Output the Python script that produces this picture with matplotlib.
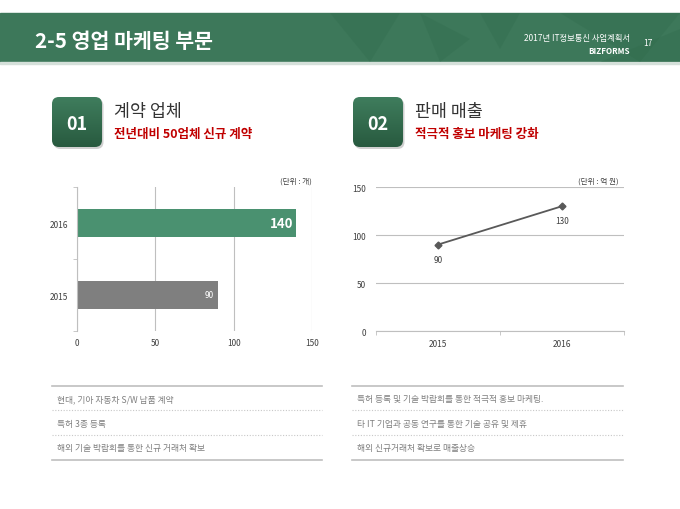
import numpy as np
import matplotlib
matplotlib.use("Agg")
import matplotlib.pyplot as plt
from matplotlib.patches import FancyBboxPatch, Rectangle, Polygon
from matplotlib.colors import LinearSegmentedColormap

plt.rcParams['font.family'] = ['Noto Sans CJK KR', 'DejaVu Sans']

# data
bar_years = ['2015', '2016']
bar_values = [90, 140]
line_years = ['2015', '2016']
line_values = [90, 130]

left_notes = ['현대, 기아 자동차 S/W 납품 계약',
              '특허 3종 등록',
              '해외 기술 박람회를 통한 신규 거래처 확보']
right_notes = ['특허 등록 및 기술 박람회를 통한 적극적 홍보 마케팅.',
               '타 IT 기업과 공동 연구를 통한 기술 공유 및 제휴',
               '해외 신규거래처 확보로 매출상승']

W, H = 680, 510
fig = plt.figure(figsize=(6.8, 5.1), dpi=100)
fig.patch.set_facecolor('white')

# overlay in pixel coords
bg = fig.add_axes([0, 0, 1, 1])
bg.set_xlim(0, W)
bg.set_ylim(H, 0)
bg.axis('off')

# header band
bg.add_patch(Rectangle((0, 14), W, 49, color='#3d785a', zorder=1))
bg.add_patch(Rectangle((0, 63), W, 2, color='#d5e0da', zorder=1))
tris = [[(330, 14), (400, 14), (370, 63)],
        [(420, 14), (470, 40), (440, 63)],
        [(560, 14), (680, 14), (640, 63)],
        [(600, 63), (680, 30), (680, 63)],
        [(480, 14), (520, 14), (500, 50)]]
for t in tris:
    bg.add_patch(Polygon(t, closed=True, color='#2f6a4b', alpha=0.3, lw=0, zorder=2))
bg.text(35, 41, '2-5 영업 마케팅 부문', color='white', fontsize=14.8, fontweight='bold',
        va='center', ha='left', zorder=3)
bg.text(630, 38, '2017년 IT정보통신 사업계획서', color='white', fontsize=6,
        va='center', ha='right', zorder=3)
bg.text(630, 52, 'BIZFORMS', color='white', fontsize=5.8, fontweight='bold',
        va='center', ha='right', zorder=3)
bg.text(648, 43, '17', color='white', fontsize=6, va='center', ha='center', zorder=3)

# section badges
grad = LinearSegmentedColormap.from_list('g', ['#3f7d5d', '#285a3f'])

def badge(x, num, title, sub):
    bg.add_patch(FancyBboxPatch((x + 1.5, 100), 50, 50, boxstyle='round,pad=0,rounding_size=7',
                                color='#d0d0d0', lw=0, zorder=2))
    box = FancyBboxPatch((x, 98), 50, 50, boxstyle='round,pad=0,rounding_size=7',
                         facecolor='none', lw=0, zorder=3)
    bg.add_patch(box)
    im = bg.imshow(np.linspace(0, 1, 64).reshape(-1, 1), cmap=grad, aspect='auto',
                   extent=(x, x + 50, 148, 98), zorder=3)
    im.set_clip_path(box)
    bg.text(x + 25, 124, num, color='white', fontsize=13, fontweight='bold',
            ha='center', va='center', zorder=4)
    bg.text(x + 62, 112, title, color='#333333', fontsize=12.5, ha='left', va='center')
    bg.text(x + 62, 135, sub, color='#c00000', fontsize=9, fontweight='bold',
            ha='left', va='center')

badge(52, '01', '계약 업체', '전년대비 50업체 신규 계약')
badge(353, '02', '판매 매출', '적극적 홍보 마케팅 강화')
bg.set_xlim(0, W)
bg.set_ylim(H, 0)

# bar chart
ax1 = fig.add_axes([77 / W, (H - 332) / H, (312 - 77) / W, (332 - 188) / H])
ypos = np.arange(len(bar_years))
ax1.barh(ypos, bar_values, height=0.4, color=['#7f7f7f', '#4a9170'], zorder=2)
ax1.set_xlim(0, 150)
ax1.set_ylim(-0.5, 1.5)
ax1.set_xticks([0, 50, 100, 150])
ax1.set_yticks(ypos)
ax1.set_yticklabels(bar_years)
ax1.set_yticks([-0.5, 0.5, 1.5], minor=True)
ax1.tick_params(axis='y', which='major', length=0, pad=6.5, labelsize=6, colors='#404040')
ax1.tick_params(axis='y', which='minor', length=3, color='#bfbfbf')
ax1.tick_params(axis='x', length=0, labelsize=6, colors='#404040', pad=5)
ax1.grid(axis='x', color='#bfbfbf', lw=0.8, zorder=0)
for s in ['top', 'right', 'bottom']:
    ax1.spines[s].set_visible(False)
ax1.spines['left'].set_color('#bfbfbf')
ax1.text(bar_values[1] - 2, ypos[1], str(bar_values[1]), color='white', fontsize=9.5,
         fontweight='bold', ha='right', va='center', zorder=3)
ax1.text(bar_values[0] - 3, ypos[0], str(bar_values[0]), color='white', fontsize=6,
         ha='right', va='center', zorder=3)
bg.text(296, 182, '(단위 : 개)', color='#404040', fontsize=5.5, ha='center', va='center')

# line chart
ax2 = fig.add_axes([376 / W, (H - 332) / H, (624 - 376) / W, (332 - 188) / H])
xpos = np.arange(len(line_years))
ax2.plot(xpos, line_values, color='#595959', lw=1.3, marker='D', markersize=3.5, zorder=3)
ax2.set_xlim(-0.5, 1.5)
ax2.set_ylim(0, 150)
ax2.set_yticks([0, 50, 100, 150])
ax2.set_xticks(xpos)
ax2.set_xticklabels(line_years)
ax2.set_xticks([-0.5, 0.5, 1.5], minor=True)
ax2.tick_params(axis='x', which='major', length=0, labelsize=6, colors='#404040', pad=5.5)
ax2.tick_params(axis='x', which='minor', length=3, color='#bfbfbf')
ax2.tick_params(axis='y', length=0, labelsize=6, colors='#404040', pad=7)
ax2.grid(axis='y', color='#bfbfbf', lw=0.8, zorder=0)
for s in ['top', 'right', 'left']:
    ax2.spines[s].set_visible(False)
ax2.spines['bottom'].set_color('#bfbfbf')
for x, v in zip(xpos, line_values):
    ax2.annotate(str(v), (x, v), xytext=(0, -10.5), textcoords='offset points',
                 ha='center', va='center', fontsize=6, color='#404040')
bg.text(598, 182, '(단위 : 억 원)', color='#404040', fontsize=5.5, ha='center', va='center')

# note lists
def notes(x0, x1, items):
    bg.plot([x0, x1], [387, 387], color='#bfbfbf', lw=1.2)
    bg.plot([x0, x1], [461, 461], color='#bfbfbf', lw=1.2)
    for yy in [411, 436]:
        bg.plot([x0, x1], [yy, yy], color='#c8c8c8', lw=0.8, ls=(0, (1, 1.5)))
    for yy, t in zip([400, 425, 449], items):
        bg.text(x0 + 5, yy, t, color='#7f7f7f', fontsize=6.3, ha='left', va='center')

notes(52, 322, left_notes)
notes(352, 623, right_notes)

fig.savefig('out.png', dpi=100)
